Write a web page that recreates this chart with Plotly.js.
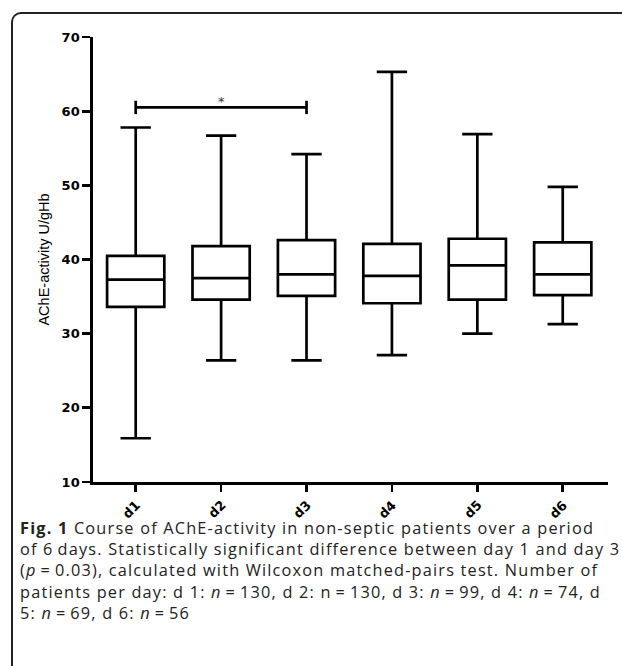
<!DOCTYPE html>
<html>
<head>
<meta charset="utf-8">
<script src="https://cdn.plot.ly/plotly-3.0.1.min.js"></script>
<style>
  html, body { margin: 0; padding: 0; background: #fff; overflow: hidden; }
  #wrap { position: relative; width: 622px; height: 666px; overflow: hidden; }
  #frame { position: absolute; left: 11px; top: 12px; width: 700px; height: 700px;
           border-top: 2px solid #222; border-left: 2px solid #222; border-top-left-radius: 10px; }
  #chart { position: absolute; left: 0; top: 0; width: 622px; height: 666px; }
  #chart .caption-text text { letter-spacing: 1.2px; }
</style>
</head>
<body>
<div id="wrap">
  <div id="frame"></div>
  <div id="chart"></div>
</div>
<script>
// ---- data ----
const days        = ['d1', 'd2', 'd3', 'd4', 'd5', 'd6'];
const lowerWhisk  = [15.9, 26.4, 26.4, 27.1, 30.0, 31.3];
const q1Values    = [33.6, 34.6, 35.1, 34.1, 34.6, 35.2];
const medians     = [37.3, 37.5, 38.0, 37.8, 39.2, 38.0];
const q3Values    = [40.5, 41.8, 42.6, 42.1, 42.8, 42.3];
const upperWhisk  = [57.8, 56.7, 54.2, 65.3, 56.9, 49.8];
const sigPair     = ['d1', 'd3'];
const sigLevel    = 60.5;
const sigCap      = 0.9;
const sigMarkDay  = 'd2';
const yTickVals   = [10, 20, 30, 40, 50, 60, 70];

const captionLines = [
  '<b>Fig. 1</b> Course of AChE-activity in non-septic patients over a period',
  'of 6\u2009days. Statistically significant difference between day 1 and day 3',
  '(<i>p</i>\u2009=\u20090.03), calculated with Wilcoxon matched-pairs test. Number of',
  'patients per day: d 1: <i>n</i>\u2009=\u2009130, d 2: n\u2009=\u2009130, d 3: <i>n</i>\u2009=\u200999, d 4: <i>n</i>\u2009=\u200974, d',
  '5: <i>n</i>\u2009=\u200969, d 6: <i>n</i>\u2009=\u200956'
];

// ---- layout geometry ----
const W = 622, H = 666;
const M = { l: 93, r: 14, t: 37, b: 184 };
const plotH = H - M.t - M.b, plotW = W - M.l - M.r;
const pxToPaperY = py => (H - M.b - py) / plotH;
const pxToPaperX = px => (px - M.l) / plotW;
const labelCenterY = 509.5;   // rotated day-label centre (px from top)
const labelDx = -4.5;         // label centre offset from its tick (px)

const boxTrace = {
  type: 'box',
  x: days,
  q1: q1Values,
  median: medians,
  q3: q3Values,
  lowerfence: lowerWhisk,
  upperfence: upperWhisk,
  boxpoints: false,
  width: 0.67,
  whiskerwidth: 0.53,
  fillcolor: '#ffffff',
  line: { color: '#000000', width: 2.7 },
  hoverinfo: 'skip',
  showlegend: false
};

const bracketTrace = {
  type: 'scatter',
  mode: 'lines',
  x: [sigPair[0], sigPair[0], null, sigPair[0], sigPair[1], null, sigPair[1], sigPair[1]],
  y: [sigLevel - sigCap, sigLevel + sigCap, null, sigLevel, sigLevel, null, sigLevel - sigCap, sigLevel + sigCap],
  line: { color: '#000000', width: 2.7 },
  connectgaps: false,
  hoverinfo: 'skip',
  showlegend: false
};

const tickFont = { family: 'DejaVu Sans, Arial, sans-serif', size: 13, color: '#000000', weight: 'bold' };

// rotated category labels, placed on the x scale of each category
const dayLabelAnnotations = days.map(d => ({
  x: d, xref: 'x', y: pxToPaperY(labelCenterY), yref: 'paper',
  xanchor: 'center', yanchor: 'middle', xshift: labelDx, yshift: 0,
  text: d, textangle: -45, showarrow: false,
  font: tickFont
}));

const layout = {
  width: W,
  height: H,
  margin: M,
  paper_bgcolor: 'rgba(0,0,0,0)',
  plot_bgcolor: 'rgba(0,0,0,0)',
  showlegend: false,
  xaxis: {
    type: 'category',
    categoryorder: 'array',
    categoryarray: days,
    range: [-0.5, 5.53],
    showline: true,
    linecolor: '#000000',
    linewidth: 2.7,
    ticks: 'outside',
    ticklen: 7,
    tickwidth: 2.7,
    tickcolor: '#000000',
    showticklabels: false,
    showgrid: false,
    zeroline: false,
    fixedrange: true
  },
  yaxis: {
    range: [10, 70],
    tickvals: yTickVals,
    showline: true,
    linecolor: '#000000',
    linewidth: 2.7,
    ticks: 'outside',
    ticklen: 8,
    tickwidth: 2.7,
    tickcolor: '#000000',
    tickfont: tickFont,
    showgrid: false,
    zeroline: false,
    fixedrange: true,
    title: {
      text: 'AChE-activity U/gHb',
      font: { family: 'Liberation Sans, Arial, sans-serif', size: 14.5, color: '#000000' },
      standoff: 9
    }
  },
  annotations: [
    {
      x: sigMarkDay, y: sigLevel, xref: 'x', yref: 'y',
      text: '*', showarrow: false, yanchor: 'middle', yshift: 6,
      font: { family: 'DejaVu Sans, Arial, sans-serif', size: 13, color: '#333333' }
    }
  ].concat(dayLabelAnnotations, [
    {
      x: pxToPaperX(18), y: pxToPaperY(515), xref: 'paper', yref: 'paper',
      xanchor: 'left', yanchor: 'top', align: 'left',
      text: captionLines.join('<br>'), showarrow: false,
      font: { family: 'Open Sans, Noto Sans, sans-serif', size: 16.3, color: '#222222' }
    }
  ])
};

function tagCaption(gd) {
  const anns = gd.querySelectorAll('.annotation');
  if (anns.length) anns[anns.length - 1].classList.add('caption-text');
}

Plotly.newPlot('chart', [boxTrace, bracketTrace], layout, { staticPlot: true, displayModeBar: false }).then(gd => {
  tagCaption(gd);
  // measure where each rotated day label really landed and nudge it onto its target
  const xa = gd._fullLayout.xaxis;
  const root = gd.getBoundingClientRect();
  const updates = {};
  days.forEach((d, i) => {
    const idx = 1 + i;
    const t = gd.querySelector('.annotation[data-index="' + idx + '"] text');
    if (!t) return;
    const r = t.getBoundingClientRect();
    const cx = r.left + r.width / 2 - root.left;
    const cy = r.top + r.height / 2 - root.top;
    const targetX = xa._offset + xa.l2p(i) + labelDx;
    const dx = targetX - cx, dy = cy - labelCenterY;
    if (Math.abs(dx) > 0.5) updates['annotations[' + idx + '].xshift'] = labelDx + dx;
    if (Math.abs(dy) > 0.5) updates['annotations[' + idx + '].yshift'] = dy;
  });
  if (Object.keys(updates).length) {
    return Plotly.relayout(gd, updates).then(() => tagCaption(gd));
  }
});
</script>
</body>
</html>
